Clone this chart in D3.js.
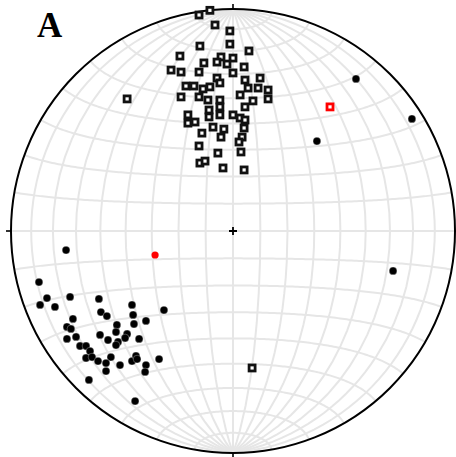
<!DOCTYPE html>
<html><head><meta charset="utf-8">
<script src="https://cdn.jsdelivr.net/npm/d3@7"></script>
<style>html,body{margin:0;padding:0;background:#fff;}svg{display:block;}</style>
</head><body>
<svg id="chart" width="456" height="457"></svg>
<script>
// Equal-area (Schmidt) net coordinates, normalised to the primitive circle: [east, north]
const squaresEast  = [-0.153,-0.104,-0.081,-0.014,-0.149,-0.014,0.072,-0.239,-0.054,-0.072,0.000,-0.131,-0.027,0.050,-0.279,-0.234,-0.153,0.000,-0.072,0.054,0.122,-0.059,-0.212,-0.176,-0.135,-0.104,0.068,0.113,0.158,-0.234,-0.153,-0.113,-0.059,0.032,0.090,0.158,-0.477,0.054,-0.059,-0.108,-0.203,-0.108,-0.059,0.000,0.032,0.054,-0.203,-0.171,-0.090,-0.041,0.050,-0.140,-0.054,0.041,0.027,-0.153,-0.068,0.036,-0.149,-0.126,-0.045,0.050,0.086];
const squaresNorth = [0.973,0.994,0.928,0.901,0.833,0.842,0.811,0.788,0.784,0.761,0.779,0.757,0.752,0.739,0.725,0.716,0.716,0.712,0.689,0.680,0.689,0.667,0.653,0.653,0.640,0.649,0.644,0.644,0.635,0.604,0.604,0.590,0.590,0.613,0.586,0.595,0.595,0.559,0.559,0.545,0.523,0.514,0.523,0.523,0.509,0.500,0.486,0.491,0.468,0.459,0.464,0.441,0.423,0.423,0.401,0.383,0.351,0.356,0.306,0.315,0.284,0.275,-0.617];
const circlesEast  = [0.554,0.806,0.378,0.721,-0.752,-0.874,-0.838,-0.734,-0.869,-0.802,-0.604,-0.721,-0.595,-0.568,-0.455,-0.311,-0.450,-0.748,-0.730,-0.446,-0.392,-0.523,-0.748,-0.707,-0.599,-0.527,-0.477,-0.563,-0.486,-0.518,-0.527,-0.423,-0.689,-0.662,-0.644,-0.662,-0.635,-0.608,-0.550,-0.572,-0.572,-0.509,-0.455,-0.437,-0.432,-0.392,-0.396,-0.333,-0.649,-0.441];
const circlesNorth = [0.685,0.505,0.405,-0.180,-0.086,-0.230,-0.302,-0.297,-0.333,-0.342,-0.306,-0.396,-0.365,-0.383,-0.333,-0.356,-0.378,-0.432,-0.441,-0.419,-0.405,-0.423,-0.486,-0.477,-0.468,-0.455,-0.464,-0.491,-0.482,-0.500,-0.514,-0.486,-0.518,-0.518,-0.541,-0.572,-0.568,-0.586,-0.568,-0.595,-0.631,-0.604,-0.586,-0.563,-0.577,-0.604,-0.635,-0.577,-0.671,-0.766];
const redSquareEast = [0.437], redSquareNorth = [0.559];
const redCircleEast = [-0.351], redCircleNorth = [-0.108];
const panelLabel = "A";
const gridStepDeg = 10;

const svg = d3.select("#chart");
const cx = 233, cy = 231, R = 222;
const x = d3.scaleLinear().domain([-1, 1]).range([cx - R, cx + R]);
const y = d3.scaleLinear().domain([-1, 1]).range([cy + R, cy - R]);

// Schmidt net grid: equatorial azimuthal equal-area projection
const proj = d3.geoAzimuthalEqualArea().rotate([0, 0]).scale(R / Math.SQRT2).translate([cx, cy]).clipAngle(90 - 1e-6).precision(0.2);
const path = d3.geoPath(proj);
const grat = d3.geoGraticule().extent([[-180, -90], [180, 90]]).step([gridStepDeg, gridStepDeg]).precision(1);
svg.append("g").selectAll("path").data(grat.lines()).join("path")
  .attr("d", path).attr("fill", "none").attr("stroke", "#e6e6e6").attr("stroke-width", 2);

// primitive circle
svg.append("circle").attr("cx", cx).attr("cy", cy).attr("r", R)
  .attr("fill", "none").attr("stroke", "#000").attr("stroke-width", 2);

// edge ticks and centre cross
const tk = [[0, 1], [0, -1], [1, 0], [-1, 0]];
svg.append("g").selectAll("line").data(tk).join("line")
  .attr("x1", d => x(d[0]) + d[0] * 0).attr("y1", d => y(d[1]))
  .attr("x2", d => x(d[0]) + d[0] * 5).attr("y2", d => y(d[1]) - d[1] * 5)
  .attr("stroke", "#000").attr("stroke-width", 1.6);
svg.append("path").attr("d", `M${x(0)-4},${y(0)}H${x(0)+4}M${x(0)},${y(0)-4}V${y(0)+4}`)
  .attr("stroke", "#000").attr("stroke-width", 1.8);

// data
const sq = squaresEast.map((e, i) => [e, squaresNorth[i]]);
const ci = circlesEast.map((e, i) => [e, circlesNorth[i]]);
const rs = redSquareEast.map((e, i) => [e, redSquareNorth[i]]);
const rc = redCircleEast.map((e, i) => [e, redCircleNorth[i]]);

svg.append("g").selectAll("rect").data(sq).join("rect")
  .attr("x", d => x(d[0]) - 3).attr("y", d => y(d[1]) - 3).attr("width", 6).attr("height", 6)
  .attr("fill", "#fff").attr("stroke", "#111").attr("stroke-width", 2.8);
svg.append("g").selectAll("rect").data(rs).join("rect")
  .attr("x", d => x(d[0]) - 3).attr("y", d => y(d[1]) - 3).attr("width", 6).attr("height", 6)
  .attr("fill", "#fff").attr("stroke", "#ff0000").attr("stroke-width", 2.8);
svg.append("g").selectAll("circle").data(ci).join("circle")
  .attr("cx", d => x(d[0])).attr("cy", d => y(d[1])).attr("r", 3.9)
  .attr("fill", "#000").attr("stroke", "#fff").attr("stroke-width", 0.5).attr("stroke-opacity", 0.6);
svg.append("g").selectAll("circle").data(rc).join("circle")
  .attr("cx", d => x(d[0])).attr("cy", d => y(d[1])).attr("r", 3.6)
  .attr("fill", "#ff0000");

svg.append("text").attr("x", 37).attr("y", 37).text(panelLabel)
  .attr("font-family", "'Liberation Serif','Times New Roman',serif").attr("font-weight", "bold")
  .attr("font-size", 35).attr("fill", "#000");
</script>
</body></html>
